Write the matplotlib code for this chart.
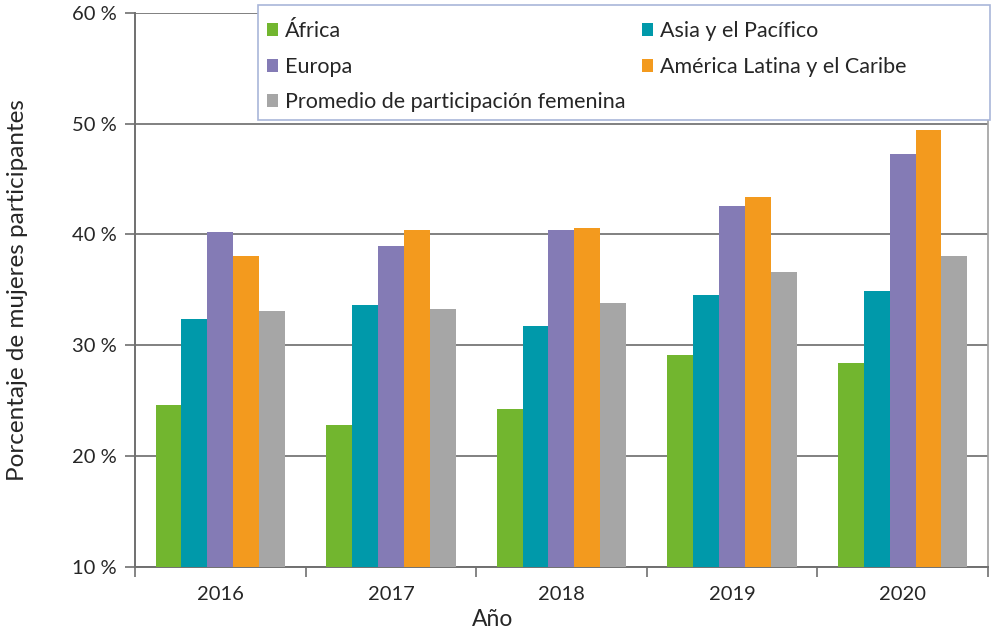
import numpy as np
import matplotlib
matplotlib.use('Agg')
import matplotlib.pyplot as plt
from matplotlib.patches import Rectangle
from matplotlib.ticker import FuncFormatter, FixedLocator

plt.rcParams['font.family'] = ['Lato', 'DejaVu Sans']

# data (percent of women participants)
years = ['2016', '2017', '2018', '2019', '2020']
africa = [24.6, 22.8, 24.2, 29.1, 28.4]
asia = [32.4, 33.6, 31.7, 34.5, 34.9]
europa = [40.2, 39.0, 40.4, 42.6, 47.3]
america = [38.1, 40.4, 40.6, 43.4, 49.4]
promedio = [33.1, 33.3, 33.8, 36.6, 38.1]

series = [
    ('África', africa, '#72b62f'),
    ('Asia y el Pacífico', asia, '#0099aa'),
    ('Europa', europa, '#847bb5'),
    ('América Latina y el Caribe', america, '#f39a1e'),
    ('Promedio de participación femenina', promedio, '#a6a6a6'),
]

fig = plt.figure(figsize=(10.01, 6.30), dpi=100)
ax = fig.add_axes([0.1349, 0.1005, 0.852, 0.8789])

x = np.arange(len(years))
w = 0.152
bars = {}
for i, (name, vals, col) in enumerate(series):
    b = ax.bar(x + (i - 2) * w, np.array(vals) - 10, width=w, bottom=10,
               color=col, zorder=3, label=name)
    bars[name] = b

ax.set_ylim(10, 60)
ax.set_xlim(-0.5, 4.5)
ax.set_yticks([10, 20, 30, 40, 50, 60])
ax.yaxis.set_major_formatter(FuncFormatter(lambda v, p: '%d %%' % v))
ax.yaxis.grid(True, color='#808080', linewidth=1.4, zorder=0)
ax.set_xticks(x)
ax.set_xticklabels(years)
ax.xaxis.set_minor_locator(FixedLocator(np.arange(-0.5, 5, 1)))
ax.tick_params(axis='x', which='major', length=0, pad=14, labelsize=14.5, labelcolor='#262626')
ax.tick_params(axis='x', which='minor', length=7, width=1.2, color='#707070', direction='out')
ax.tick_params(axis='y', length=7, width=1.2, color='#707070', labelsize=14.5,
               labelcolor='#262626', pad=6)

for s in ['left', 'bottom']:
    ax.spines[s].set_color('#707070')
    ax.spines[s].set_linewidth(1.4)
ax.spines['right'].set_color('#a0a0a0')
ax.spines['right'].set_linewidth(1.2)
ax.spines['top'].set_visible(False)

ax.set_xlabel('Año', fontsize=16.5, color='#262626', labelpad=4)
ax.xaxis.label.set_x(0.419)
ax.set_ylabel('Porcentaje de mujeres participantes', fontsize=17.5, color='#262626', labelpad=32)

# legend: row-major order in two columns
order = ['África', 'Europa', 'Promedio de participación femenina',
         'Asia y el Pacífico', 'América Latina y el Caribe']
handles = [bars[n] for n in order]
box = Rectangle((0.258, 0.81), 0.731, 0.182, transform=fig.transFigure,
                facecolor='white', edgecolor='#a9b6d9', linewidth=1.2, zorder=4)
fig.patches.append(box)
leg = fig.legend(handles, order, loc='upper left', bbox_to_anchor=(0.247, 0.997),
                 ncol=2, frameon=False, fontsize=15.5, handlelength=0.55, handleheight=0.55,
                 handletextpad=0.3, columnspacing=0.75, labelspacing=0.72,
                 labelcolor='#262626')
leg.set_zorder(5)

fig.savefig('out.png', dpi=100)
